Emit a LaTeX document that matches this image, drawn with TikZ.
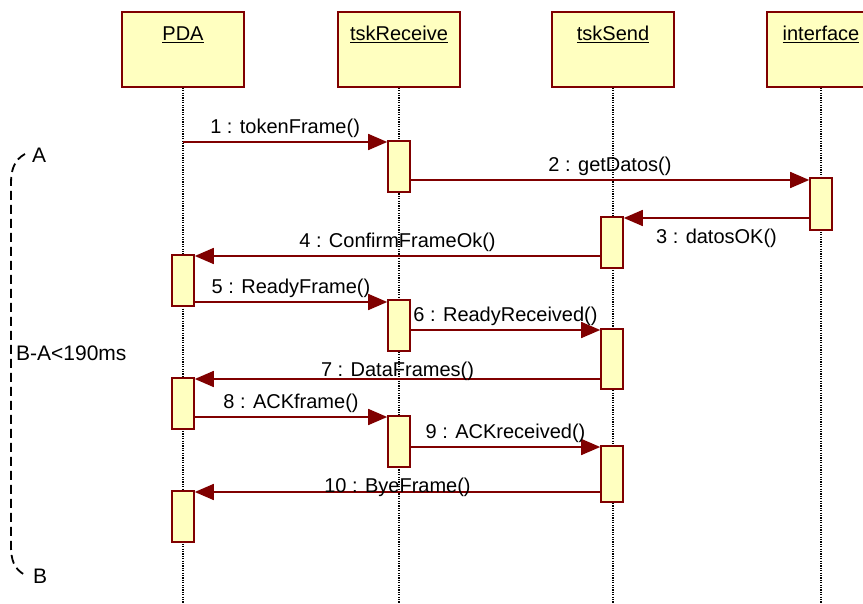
\documentclass[tikz,border=0pt]{standalone}
\usepackage{fontspec}
\setmainfont{Liberation Sans}
\usetikzlibrary{arrows.meta,positioning}
\definecolor{frame}{HTML}{800000}
\definecolor{fillin}{HTML}{FFFFC0}

\begin{document}
\begin{tikzpicture}[x=1pt,y=-1pt,
  txt/.style={font=\fontsize{20}{24}\selectfont},
  note/.style={font=\fontsize{21}{25}\selectfont,anchor=west,inner sep=0pt},
  head/.style={draw=frame,fill=fillin,line width=1.6pt,
    minimum height=75pt,inner sep=0pt},
  headtext/.style={txt,anchor=base,inner sep=0pt},
  bar/.style={draw=frame,fill=fillin,line width=1.6pt,
    minimum width=22pt,inner sep=0pt},
  life/.style={line width=1.4pt,dash pattern=on 1.2pt off 1.2pt},
  msg/.style={draw=frame,line width=1.6pt,
    -{Triangle[length=19pt,width=16pt]}},
  lbl/.style={txt,midway},
  bracket/.style={line width=1.8pt,dash pattern=on 9pt off 5pt}
]
  \useasboundingbox (0,0) rectangle (863,604);
  \coordinate (bottom) at (0,604);

  \foreach \n/\x/\w/\t in {pda/183/122/PDA,recv/399/122/tskReceive,
      send/613/122/tskSend,intf/821/108/interface}{
    \node[head,minimum width=\w pt] (\n) at (\x,49.5) {};
    \node[headtext] (\n-txt) at (\x,41) {\underline{\t}};
    \draw[life] (\n.south) -- (\n.south |- bottom);
  }

  \foreach \n/\x/\t/\b in {recvA/399/141/192,intfA/821/178/230,
      sendA/612/217/268,pdaA/183/255/306,recvB/399/300/351,
      sendB/612/329/389,pdaB/183/378/429,recvC/399/416/467,
      sendC/612/446/502,pdaC/183/491/542}
    \node[bar,minimum height={(\b-\t)*1pt}] (\n) at (\x,{(\t+\b)/2}) {};

  \draw[msg] (pda.south |- 0,142) -- (recvA.west |- 0,142)
    node[lbl,above] (m1) {1 : tokenFrame()};
  \draw[msg] (recvA.east |- 0,180) -- (intfA.west |- 0,180)
    node[lbl,above] (m2) {2 : getDatos()};
  \draw[msg] (intfA.west |- 0,218) -- (sendA.east |- 0,218)
    node[lbl,below,yshift=-7pt] (m3) {3 : datosOK()};
  \draw[msg] (sendA.west |- 0,256) -- (pdaA.east |- 0,256)
    node[lbl,above] (m4) {4 : ConfirmFrameOk()};
  \draw[msg] (pdaA.east |- 0,302) -- (recvB.west |- 0,302)
    node[lbl,above] (m5) {5 : ReadyFrame()};
  \draw[msg] (recvB.east |- 0,330) -- (sendB.west |- 0,330)
    node[lbl,above] (m6) {6 : ReadyReceived()};
  \draw[msg] (sendB.west |- 0,379) -- (pdaB.east |- 0,379)
    node[lbl,above,yshift=-6pt] (m7) {7 : DataFrames()};
  \draw[msg] (pdaB.east |- 0,417) -- (recvC.west |- 0,417)
    node[lbl,above] (m8) {8 : ACKframe()};
  \draw[msg] (recvC.east |- 0,447) -- (sendC.west |- 0,447)
    node[lbl,above] (m9) {9 : ACKreceived()};
  \draw[msg] (sendC.west |- 0,492) -- (pdaC.east |- 0,492)
    node[lbl,above,yshift=-9pt] (m10) {10 : ByeFrame()};

  \coordinate (brA) at (25,154);
  \coordinate (brB) at (25,575);
  \draw[bracket] (brA) .. controls (14,160) and (11,170) .. (11,184)
    -- (11,546) .. controls (11,560) and (14,569) .. (brB);
  \node[note] (tA) at (32,155) {A};
  \node[note] (tB) at (33,576) {B};
  \node[note] (tBA) at (16,353) {B-A<190ms};
\end{tikzpicture}
\end{document}
